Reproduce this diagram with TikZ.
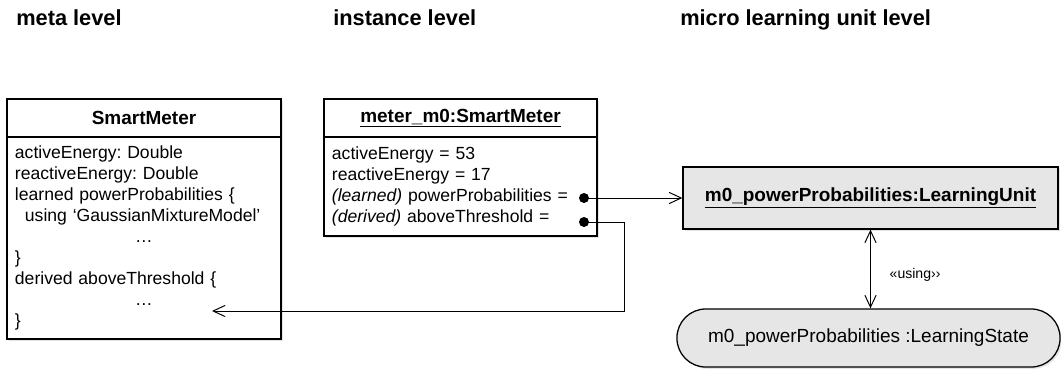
\documentclass[tikz,border=0pt]{standalone}
\usepackage{fontspec}
\setmainfont{Liberation Sans}
\frenchspacing
\usetikzlibrary{
    arrows.meta,
    positioning,
    shadows
}
\definecolor{unitgray}{RGB}{230, 230, 230}

\begin{document}
\begin{tikzpicture}[
        x=0.025cm, y=-0.025cm,
        level/.style={anchor=base west, inner sep=0pt, font=\fontsize{15.5}{18}\selectfont\bfseries},
        shade/.style={drop shadow={shadow xshift=1.3pt, shadow yshift=-1.3pt, opacity=0.22}},
        head/.style={rectangle, draw, fill=white, line width=0.9pt, outer sep=0pt, minimum height=0.95cm, shade, font=\fontsize{13.5}{16}\selectfont\bfseries},
        body/.style={rectangle, draw, fill=white, line width=0.9pt, outer sep=0pt, align=left, inner xsep=0.2cm, shade, font=\fontsize{12.5}{14.9}\selectfont},
        unit/.style={rectangle, draw, fill=unitgray, line width=0.9pt, minimum width=9.375cm, minimum height=1.55cm, shade, font=\fontsize{13.5}{16}\selectfont\bfseries},
        state/.style={rectangle, rounded corners=0.72cm, draw, fill=unitgray, line width=0.9pt, minimum width=9.575cm, minimum height=1.45cm, shade, font=\fontsize{13.5}{16}\selectfont},
        dot/.style={circle, fill, inner sep=0pt, minimum size=0.25cm},
        arrow/.style={-{Straight Barb[length=0.3cm, width=0.28cm]}, line width=0.7pt},
        dblarrow/.style={{Straight Barb[length=0.3cm, width=0.28cm]}-{Straight Barb[length=0.3cm, width=0.28cm]}, line width=0.7pt}
    ]
        \useasboundingbox (0,0) rectangle (1061,371);

        % level titles
        \node[level] (meta) at (16,25) {meta level};
        \node[level] (instance) at (333,25) {instance level};
        \node[level] (micro) at (680,25) {micro learning unit level};

        % meta level class
        \node[head, minimum width=6.85cm] (cls) at (144,118) {SmartMeter};
        \node[body, text width=6.45cm, minimum height=5.05cm, below=0pt of cls] (clsbody) {activeEnergy: Double\\
            reactiveEnergy: Double\\
            learned powerProbabilities \{\\
            \hspace*{0.25cm}using `GaussianMixtureModel'\\
            \makebox[6.45cm]{\ldots}\\
            \}\\
            derived aboveThreshold \{\\
            \makebox[6.45cm]{\ldots}\\
            \}};

        % instance level object
        \node[head, minimum width=6.825cm] (inst) at (460.5,118) {\underline{meter\_m0:SmartMeter}};
        \node[body, text width=6.425cm, minimum height=2.475cm, below=0pt of inst] (instbody) {activeEnergy = 53\\
            reactiveEnergy = 17\\
            \textit{(learned)} powerProbabilities =\\
            \textit{(derived)} aboveThreshold =};
        \node[dot] (learned) at (584,198) {};
        \node[dot] (derived) at (584,222) {};

        % micro learning unit level
        \node[unit] (lu) at (870.5,198) {\underline{m0\_powerProbabilities:LearningUnit}};
        \node[state] (ls) at (868.5,338) {m0\_powerProbabilities :LearningState};

        \coordinate (bend) at (624,311);
        \coordinate (dots) at (212,311);

        \draw[arrow] (learned.center) -- (learned.center -| lu.west);
        \draw[arrow] (derived.center) -| (bend) -- (dots);
        \draw[dblarrow] (lu.south) -- (lu.south |- ls.north)
            node[midway, right=0.35cm, yshift=-0.15cm, font=\fontsize{10}{12}\selectfont] {«using››};
    \end{tikzpicture}
\end{document}
